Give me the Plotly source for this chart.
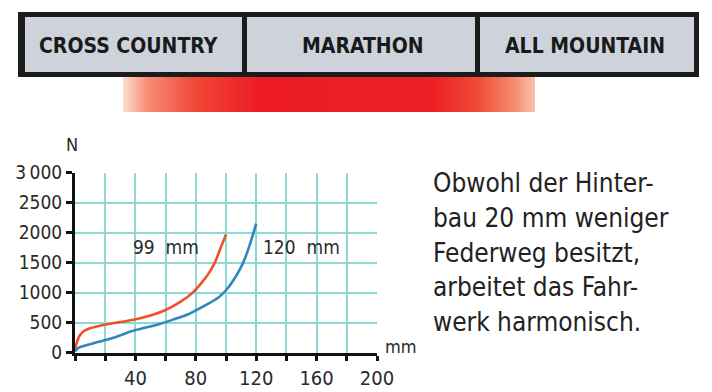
import plotly.graph_objects as go

W, H = 712, 392

# ---- data ----
categories = ["CROSS COUNTRY", "MARATHON", "ALL MOUNTAIN"]

travel_99 = [0, 1, 3, 6, 10, 15, 25, 38, 50, 60, 70, 78, 84, 88, 92, 95, 97, 100]
force_99 = [60, 150, 280, 360, 405, 440, 490, 545, 620, 710, 850, 1000, 1170, 1300, 1470, 1650, 1780, 1970]

travel_120 = [0, 2, 5, 15, 25, 40, 55, 65, 75, 85, 95, 100, 107, 111, 113, 115.5, 118, 120]
force_120 = [20, 75, 105, 175, 245, 375, 470, 550, 640, 770, 920, 1040, 1290, 1480, 1600, 1780, 1980, 2150]

series_labels = ["99\u00a0\u00a0mm", "120\u00a0\u00a0mm"]

y_tickvals = [0, 500, 1000, 1500, 2000, 2500, 3000]
y_ticktext = ["0", "500", "1000", "1500", "2000", "2500", "3\u2009000"]
x_tickvals = [0, 20, 40, 60, 80, 100, 120, 140, 160, 180, 200]
x_ticktext = ["", "", "40", "", "80", "", "120", "", "160", "", "200"]

caption = [
    "Obwohl der Hinter-",
    "bau 20 mm weniger",
    "Federweg besitzt,",
    "arbeitet das Fahr-",
    "werk harmonisch.",
]

bar_stops = [0.0, 0.06, 0.18, 0.33, 0.75, 0.86, 0.95, 1.0]
bar_colors = ["rgb(252,222,210)", "rgb(246,140,115)", "rgb(240,70,55)", "rgb(237,28,36)",
              "rgb(237,30,36)", "rgb(240,75,55)", "rgb(245,140,110)", "rgb(250,195,175)"]

# ---- style ----
FONT = "DejaVu Sans Condensed, Liberation Sans Narrow, sans-serif"
HFONT = "DejaVu Sans Condensed, sans-serif"
GRID = "rgb(140,218,212)"
ORANGE = "rgb(240,80,40)"
BLUE = "rgb(48,135,188)"
TXT = "#2a2a2a"


def px(x):
    return x / W


def py(y):
    return 1 - y / H


fig = go.Figure()

fig.add_trace(go.Scatter(x=travel_99, y=force_99, mode="lines",
                         line=dict(color=ORANGE, width=2.6, shape="spline", smoothing=0.8),
                         hoverinfo="skip", showlegend=False, cliponaxis=False))
fig.add_trace(go.Scatter(x=travel_120, y=force_120, mode="lines",
                         line=dict(color=BLUE, width=2.6, shape="spline", smoothing=0.8),
                         hoverinfo="skip", showlegend=False, cliponaxis=False))

# gradient bar
fig.add_trace(go.Scatter(x=[0, 1, 1, 0, 0], y=[0, 0, 1, 1, 0], mode="lines", fill="toself",
                         line=dict(width=0, color="rgba(0,0,0,0)"),
                         fillgradient=dict(type="horizontal", start=0, stop=1,
                                           colorscale=[[s, c] for s, c in zip(bar_stops, bar_colors)]),
                         xaxis="x2", yaxis="y2", hoverinfo="skip", showlegend=False))

shapes = []
# header box
shapes.append(dict(type="rect", xref="paper", yref="paper", x0=px(18), x1=px(699), y0=py(77), y1=py(12),
                   fillcolor="#1c1c1c", line=dict(width=0), layer="below"))
cells = [(25, 242), (247, 475), (480, 694)]
for (a, b) in cells:
    shapes.append(dict(type="rect", xref="paper", yref="paper", x0=px(a), x1=px(b), y0=py(72), y1=py(17),
                       fillcolor="rgb(206,211,219)", line=dict(width=0), layer="below"))

annotations = []
centers = [128, 363, 585]
for cat, cx in zip(categories, centers):
    annotations.append(dict(text="<b>" + cat + "</b>", x=px(cx), y=py(46), xref="paper", yref="paper",
                            showarrow=False, xanchor="center", yanchor="middle",
                            font=dict(family=HFONT, size=21, color="#1a1a1a")))

annotations.append(dict(text="N", x=px(72), y=py(144), xref="paper", yref="paper", showarrow=False,
                        xanchor="center", yanchor="middle", font=dict(family=FONT, size=18, color=TXT)))
annotations.append(dict(text="mm", x=px(383), y=py(346), xref="paper", yref="paper", showarrow=False,
                        xanchor="left", yanchor="middle", font=dict(family=FONT, size=18, color=TXT)))

annotations.append(dict(text=series_labels[0], x=60, y=1760, xref="x", yref="y", showarrow=False,
                        xanchor="center", yanchor="middle", font=dict(family=FONT, size=19, color=TXT)))
annotations.append(dict(text=series_labels[1], x=150, y=1760, xref="x", yref="y", showarrow=False,
                        xanchor="center", yanchor="middle", font=dict(family=FONT, size=19, color=TXT)))

line_y = [183, 218, 253, 287, 322]
for t, ly in zip(caption, line_y):
    annotations.append(dict(text=t, x=px(431), y=py(ly), xref="paper", yref="paper", showarrow=False,
                            xanchor="left", yanchor="middle",
                            font=dict(family=FONT, size=26, color="#222222")))

fig.update_layout(
    width=W, height=H, autosize=False,
    margin=dict(l=0, r=0, t=0, b=0, pad=0, autoexpand=False),
    paper_bgcolor="white", plot_bgcolor="white",
    showlegend=False,
    shapes=shapes, annotations=annotations,
    xaxis=dict(domain=[px(75), px(377)], range=[0, 200], anchor="y",
               tickmode="array", tickvals=x_tickvals, ticktext=x_ticktext,
               showgrid=True, gridcolor=GRID, gridwidth=1.8, zeroline=False,
               showline=True, linecolor="#111111", linewidth=3,
               ticks="outside", ticklen=5, tickwidth=3, tickcolor="#111111",
               tickfont=dict(family=FONT, size=20, color=TXT), fixedrange=True, automargin=False),
    yaxis=dict(domain=[py(352.6), py(172.7)], range=[0, 3000], anchor="x",
               tickmode="array", tickvals=y_tickvals, ticktext=y_ticktext,
               showgrid=True, gridcolor=GRID, gridwidth=1.8, zeroline=False,
               showline=True, linecolor="#111111", linewidth=3,
               ticks="outside", ticklen=6, tickwidth=3, tickcolor="#111111",
               tickfont=dict(family=FONT, size=19, color=TXT), fixedrange=True, automargin=False),
    xaxis2=dict(domain=[px(123), px(535)], range=[0, 1], anchor="y2", visible=False, fixedrange=True),
    yaxis2=dict(domain=[py(112), py(77)], range=[0, 1], anchor="x2", visible=False, fixedrange=True),
)

fig.write_html("out.html")
